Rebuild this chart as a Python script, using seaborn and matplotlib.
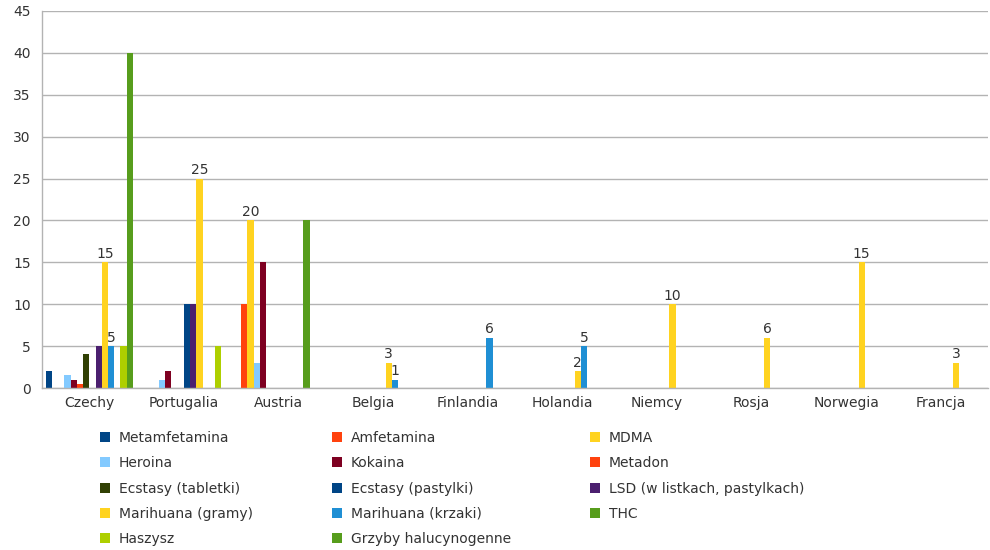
import numpy as np
import pandas as pd
import seaborn as sns
import matplotlib.pyplot as plt
from matplotlib.lines import Line2D

# Countries on the x axis
countries = ["Czechy", "Portugalia", "Austria", "Belgia", "Finlandia",
             "Holandia", "Niemcy", "Rosja", "Norwegia", "Francja"]

# Substance series (same order as countries)
metamfetamina = [2, 0, 0, 0, 0, 0, 0, 0, 0, 0]
amfetamina = [0, 0, 10, 0, 0, 0, 0, 0, 0, 0]
mdma = [0, 0, 20, 0, 0, 0, 0, 0, 0, 0]
heroina = [1.5, 1, 3, 0, 0, 0, 0, 0, 0, 0]
kokaina = [1, 2, 15, 0, 0, 0, 0, 0, 0, 0]
metadon = [0.5, 0, 0, 0, 0, 0, 0, 0, 0, 0]
ecstasy_tabletki = [4, 0, 0, 0, 0, 0, 0, 0, 0, 0]
ecstasy_pastylki = [0, 10, 0, 0, 0, 0, 0, 0, 0, 0]
lsd = [5, 10, 0, 0, 0, 0, 0, 0, 0, 0]
marihuana_gramy = [15, 25, 0, 3, 0, 2, 10, 6, 15, 3]
marihuana_krzaki = [5, 0, 0, 1, 6, 5, 0, 0, 0, 0]
thc = [0, 0, 20, 0, 0, 0, 0, 0, 0, 0]
haszysz = [5, 5, 0, 0, 0, 0, 0, 0, 0, 0]
grzyby = [40, 0, 0, 0, 0, 0, 0, 0, 0, 0]

series_names = ["Metamfetamina", "Amfetamina", "MDMA", "Heroina", "Kokaina",
                "Metadon", "Ecstasy (tabletki)", "Ecstasy (pastylki)",
                "LSD (w listkach, pastylkach)", "Marihuana (gramy)",
                "Marihuana (krzaki)", "THC", "Haszysz", "Grzyby halucynogenne"]
series_values = [metamfetamina, amfetamina, mdma, heroina, kokaina, metadon,
                 ecstasy_tabletki, ecstasy_pastylki, lsd, marihuana_gramy,
                 marihuana_krzaki, thc, haszysz, grzyby]
series_colors = ["#004586", "#ff420e", "#ffd320", "#83caff", "#7e0021",
                 "#ff420e", "#314004", "#004586", "#4b1f6f", "#ffd320",
                 "#1f8fd4", "#579d1c", "#aecf00", "#579d1c"]
labelled_series = {"MDMA", "Marihuana (gramy)", "Marihuana (krzaki)"}

rows = []
for name, vals in zip(series_names, series_values):
    for c, v in zip(countries, vals):
        rows.append({"kraj": c, "substancja": name, "liczba": v})
df = pd.DataFrame(rows)

sns.set_style("white")
plt.rcParams["font.family"] = ["DejaVu Sans"]
text_color = "#333333"
grid_color = "#b3b3b3"

fig = plt.figure(figsize=(9.9, 5.5), dpi=100)
ax = fig.add_axes([42 / 990, 1 - 388 / 550, 946 / 990, 377 / 550])

sns.barplot(data=df, x="kraj", y="liczba", hue="substancja",
            order=countries, hue_order=series_names, palette=series_colors,
            width=0.92, saturation=1, linewidth=0, legend=False, ax=ax)

# Value labels for selected series
for name, container in zip(series_names, ax.containers):
    if name in labelled_series:
        labels = [f"{b.get_height():g}" if b.get_height() > 0 else ""
                  for b in container]
        ax.bar_label(container, labels=labels, padding=1, fontsize=10,
                     color=text_color)

ax.set_ylim(0, 45)
ax.set_yticks(np.arange(0, 46, 5))
ax.set_xlim(-0.5, len(countries) - 0.5)
ax.set_xlabel("")
ax.set_ylabel("")
ax.yaxis.grid(True, color=grid_color, linewidth=1)
ax.set_axisbelow(True)
for side in ["top", "right"]:
    ax.spines[side].set_visible(False)
for side in ["left", "bottom"]:
    ax.spines[side].set_color(grid_color)
    ax.spines[side].set_linewidth(1)

# Category separators as tick marks between groups
ax.set_xticks(np.arange(len(countries)))
ax.set_xticklabels(countries)
ax.set_xticks(np.arange(-0.5, len(countries), 1), minor=True)
ax.tick_params(axis="x", which="major", length=0, labelsize=10,
               labelcolor=text_color, pad=6)
ax.tick_params(axis="x", which="minor", length=5, color=grid_color, width=1)
ax.tick_params(axis="y", which="major", length=6, color=grid_color, width=1,
               labelsize=10, labelcolor=text_color, pad=2)

# Legend laid out in rows of three
order = [0, 3, 6, 9, 12, 1, 4, 7, 10, 13, 2, 5, 8, 11]
handles = [Line2D([], [], marker="s", linestyle="none", markersize=6.5,
                  markerfacecolor=series_colors[i], markeredgewidth=0)
           for i in order]
labels = [series_names[i] for i in order]
fig.legend(handles, labels, ncol=3, loc="upper left",
           bbox_to_anchor=(98 / 990, 1 - 431 / 550), frameon=False,
           fontsize=10, labelcolor=text_color, handlelength=1.0,
           handletextpad=0.5, columnspacing=5.56, labelspacing=0.81,
           borderpad=0, borderaxespad=0)

fig.savefig("out.png", dpi=100)
